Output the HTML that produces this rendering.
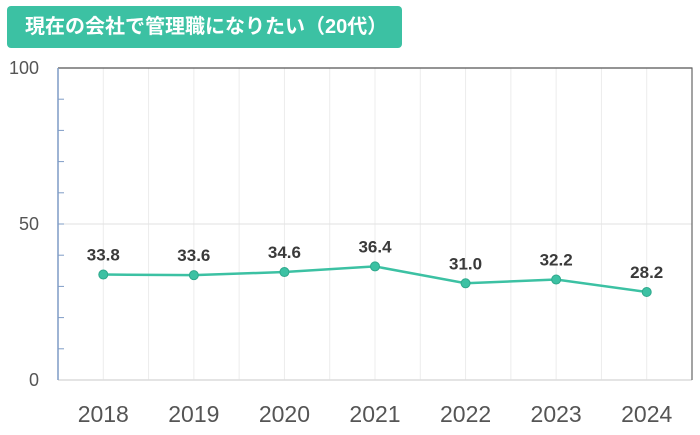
<!DOCTYPE html>
<html><head><meta charset="utf-8"><style>
body{margin:0;background:#fff;width:700px;height:435px;overflow:hidden;font-family:"Liberation Sans","Noto Sans CJK JP",sans-serif;}
#title{position:absolute;left:7px;top:6px;width:395px;height:42px;background:#3cc1a3;border-radius:4px;color:#fff;font-weight:bold;font-size:20px;line-height:42px;padding-left:18px;box-sizing:border-box;}
svg{position:absolute;left:0;top:0}
</style></head><body>
<div id="title">現在の会社で管理職になりたい（20代）</div>
<svg id="c" width="700" height="435"></svg>
<script>
const categories=["2018","2019","2020","2021","2022","2023","2024"];
const values=[33.8,33.6,34.6,36.4,31.0,32.2,28.2];
const yTicks=[0,50,100];
const NS="http://www.w3.org/2000/svg";
const svg=document.getElementById('c');
const L=58,R=692,T=68,B=380;
const band=(R-L)/categories.length;
const x=i=>L+band*(i+0.5);
const y=v=>B-(v/100)*(B-T);
function mk(t,a){const e=document.createElementNS(NS,t);for(const k in a)e.setAttribute(k,a[k]);svg.appendChild(e);return e;}
for(let k=1;k<categories.length*2;k++){const gx=L+band/2*k;
 const g=mk('line',{x1:gx,x2:gx,y1:T,y2:B,stroke:'#ececec','stroke-width':1});
 
 }
const h=mk('line',{x1:L,x2:R,y1:y(50),y2:y(50),stroke:'#e2e2e2','stroke-width':1});


const bl=mk('line',{x1:L,x2:R,y1:B,y2:B,stroke:'#dcdcdc','stroke-width':1.5});


const tp=mk('line',{x1:L,x2:R+0.5,y1:T,y2:T,stroke:'#555','stroke-width':1.2});


const rb=mk('line',{x1:R,x2:R,y1:T,y2:B,stroke:'#666','stroke-width':1.2});


const ya=mk('line',{x1:L,x2:L,y1:T,y2:B,stroke:'#7f9cc6','stroke-width':1.5});


for(let v=10;v<100;v+=10){const tk=mk('line',{x1:L,x2:L+6,y1:y(v),y2:y(v),stroke:'#7f9cc6','stroke-width':1});
 
 }
yTicks.forEach(v=>{const t=mk('text',{x:39,y:y(v)+6,'text-anchor':'end','font-size':18,fill:'#555'});t.textContent=v;
 
 });
categories.forEach((c,i)=>{const t=mk('text',{x:x(i),y:422,'text-anchor':'middle','font-size':23,fill:'#555'});t.textContent=c;
 
 });
const ln=mk('polyline',{points:values.map((v,i)=>x(i)+','+y(v)).join(' '),fill:'none',stroke:'#3cc1a3','stroke-width':2.5});


values.forEach((v,i)=>{const p=mk('circle',{cx:x(i),cy:y(v),r:4.5,fill:'#3cc1a3',stroke:'#2fa88c','stroke-width':1});
 
 
 const t=mk('text',{x:x(i),y:y(v)-14,'text-anchor':'middle','font-size':17,'font-weight':'bold',fill:'#3a3a3a'});t.textContent=v.toFixed(1);
 
 });
</script>
</body></html>
